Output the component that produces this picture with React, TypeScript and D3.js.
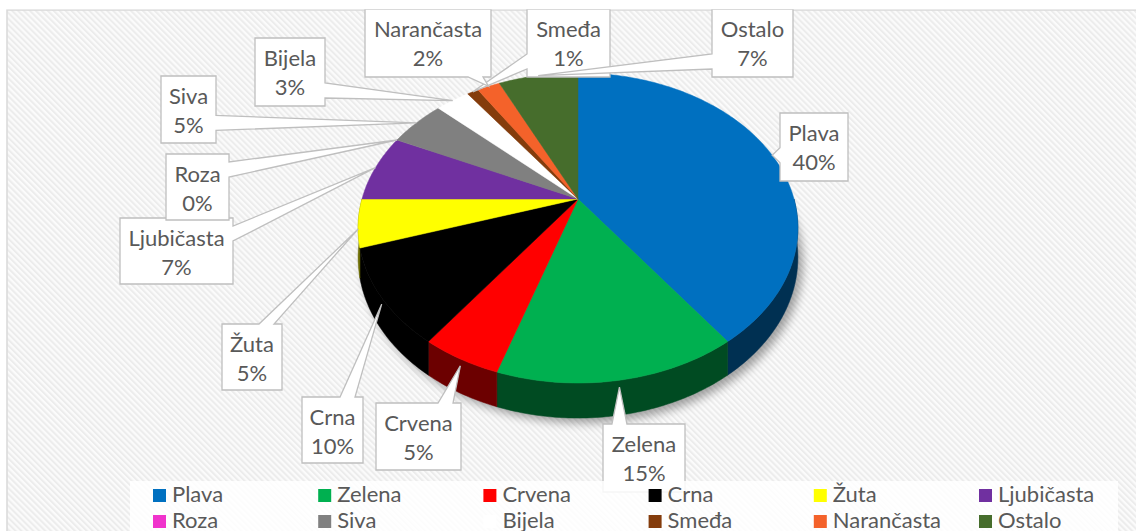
import React from 'react';
import * as d3 from 'd3';

// ---------- data ----------
const categories = ['Plava', 'Zelena', 'Crvena', 'Crna', 'Žuta', 'Ljubičasta', 'Roza', 'Siva', 'Bijela', 'Smeđa', 'Narančasta', 'Ostalo'];
const values = [40, 15, 5, 10, 5, 7, 0, 5, 3, 1, 2, 7];
const colors = ['#0070C0', '#00B050', '#FF0000', '#000000', '#FFFF00', '#7030A0', '#F033CC', '#808080', '#FFFFFF', '#843C0C', '#F4622A', '#466D2C'];

// ---------- layout (label callout boxes: x0, y0, x1, y1) ----------
const labelBoxes: [number, number, number, number][] = [
  [780, 113, 848, 181],
  [603, 424, 685, 492],
  [376, 403, 461, 470],
  [302, 397, 363, 463],
  [222, 324, 282, 390],
  [120, 218, 233, 284],
  [166, 154, 229, 220],
  [161, 76, 216, 143],
  [255, 38, 325, 106],
  [527, 9, 610, 77],
  [365, 9, 491, 77],
  [712, 9, 793, 77],
];

const W = 1136, H = 531;
const CX = 578, CY = 199; // projected pie centre
const A = 216, B = 149.6, K = 0.187; // perspective projection
const D0 = 28.5; // wall depth
const FONT = "Lato, 'Open Sans', sans-serif";
const FS = 22;
const TEXT = '#595959';

function project(theta: number, r = 1): [number, number] {
  const u = r * Math.sin(theta), v = r * Math.cos(theta);
  const s = 1 / (1 + K * v);
  return [CX + A * u * s, CY - B * v * s];
}
function depthAt(theta: number) {
  return D0 / (1 + K * Math.cos(theta));
}
function arcPoints(a0: number, a1: number): number[] {
  const n = Math.max(2, Math.ceil(((a1 - a0) * 180) / Math.PI));
  return d3.range(n + 1).map((i) => a0 + ((a1 - a0) * i) / n);
}

function topPath(a0: number, a1: number) {
  const pts = arcPoints(a0, a1).map((t) => project(t));
  return `M${CX},${CY}L` + pts.map((p) => p.join(',')).join('L') + 'Z';
}
function wallPath(a0: number, a1: number) {
  const lo = Math.max(a0, Math.PI / 2), hi = Math.min(a1, (3 * Math.PI) / 2);
  if (hi <= lo) return null;
  const ts = arcPoints(lo, hi);
  const top = ts.map((t) => project(t));
  const bot = ts.map((t) => { const p = project(t); return [p[0], p[1] + depthAt(t)]; }).reverse();
  return 'M' + top.concat(bot).map((p) => p.join(',')).join('L') + 'Z';
}
function shadowPath() {
  const ts = arcPoints(0, 2 * Math.PI);
  return 'M' + ts.map((t) => { const p = project(t); return [p[0], p[1] + depthAt(t)].join(','); }).join('L') + 'Z';
}

function calloutPath(box: [number, number, number, number], ax: number, ay: number) {
  const [x0, y0, x1, y1] = box;
  const dx = ax < x0 ? x0 - ax : ax > x1 ? ax - x1 : 0;
  const dy = ay < y0 ? y0 - ay : ay > y1 ? ay - y1 : 0;
  const w = 15, m = 8;
  const clamp = (c: number, s: number, e: number) => Math.max(s + m + w / 2, Math.min(e - m - w / 2, c));
  if (dx > dy) {
    const c = clamp(ay, y0, y1);
    if (ax < x0) {
      return `M${x0},${y0}L${x1},${y0}L${x1},${y1}L${x0},${y1}L${x0},${c + w / 2}L${ax},${ay}L${x0},${c - w / 2}Z`;
    }
    return `M${x0},${y0}L${x1},${y0}L${x1},${c - w / 2}L${ax},${ay}L${x1},${c + w / 2}L${x1},${y1}L${x0},${y1}Z`;
  }
  const c = clamp(ax, x0, x1);
  if (ay < y0) {
    return `M${x0},${y0}L${c - w / 2},${y0}L${ax},${ay}L${c + w / 2},${y0}L${x1},${y0}L${x1},${y1}L${x0},${y1}Z`;
  }
  return `M${x0},${y0}L${x1},${y0}L${x1},${y1}L${c + w / 2},${y1}L${ax},${ay}L${c - w / 2},${y1}L${x0},${y1}Z`;
}

export default function App() {
  const arcs = d3.pie<number>().sort(null).startAngle(0).endAngle(2 * Math.PI)(values);
  const total = d3.sum(values);
  const legendX = d3.scaleLinear().domain([0, 6]).range([153, 153 + 6 * 165.2]);
  const legendY = d3.scaleLinear().domain([0, 1]).range([502, 528]);

  return (
    <svg width={W} height={H} style={{ position: 'absolute', left: 0, top: 0, background: '#fff' }}>
      <defs>
        <pattern id="hatch" patternUnits="userSpaceOnUse" width={4.2} height={4.2} patternTransform="rotate(-45)">
          <rect width={4.2} height={4.2} fill="#fbfbfb" />
          <rect width={2} height={4.2} fill="#ececec" />
        </pattern>
        <filter id="blur" x="-20%" y="-20%" width="140%" height="140%">
          <feGaussianBlur stdDeviation={5} />
        </filter>
      </defs>
      <rect x={7} y={10} width={W} height={H} fill="url(#hatch)" stroke="#d9d9d9" strokeWidth={1.5} />

      {/* shadow */}
      <path d={shadowPath()} fill="#000" opacity={0.35} filter="url(#blur)" transform="translate(5,5)" />

      {/* walls */}
      {arcs.map((a, i) => {
        const d = wallPath(a.startAngle, a.endAngle);
        if (!d || a.value === 0) return null;
        const c = d3.color(colors[i])!.darker(2.4).formatHex();
        return <path key={'w' + i} d={d} fill={c} stroke={c} strokeWidth={0.5} />;
      })}

      {/* top faces */}
      {arcs.map((a, i) =>
        a.value === 0 ? null : (
          <path key={'t' + i} d={topPath(a.startAngle, a.endAngle)} fill={colors[i]} stroke={colors[i]} strokeWidth={0.5} />
        )
      )}

      {/* callout labels */}
      {arcs.map((a, i) => {
        const mid = (a.startAngle + a.endAngle) / 2;
        const p = project(mid);
        const v = Math.cos(mid);
        const ay = v < 0 ? p[1] + 0.2 * depthAt(mid) : p[1];
        const box = labelBoxes[i];
        const tx = (box[0] + box[2]) / 2;
        return (
          <g key={'l' + i}>
            <path d={calloutPath(box, p[0], ay)} fill="#fff" stroke="#bfbfbf" strokeWidth={1.3} />
            <text x={tx} y={box[1] + 28} textAnchor="middle" fontFamily={FONT} fontSize={FS} fill={TEXT}>
              {categories[i]}
            </text>
            <text x={tx} y={box[1] + 57} textAnchor="middle" fontFamily={FONT} fontSize={FS} fill={TEXT}>
              {Math.round((values[i] / total) * 100) + '%'}
            </text>
          </g>
        );
      })}

      {/* legend */}
      <rect x={130} y={481} width={988} height={60} fill="#fff" opacity={0.85} />
      {categories.map((name, i) => {
        const x = legendX(i % 6), y = legendY(Math.floor(i / 6));
        return (
          <g key={'g' + i}>
            <rect x={x} y={y - 13} width={13} height={13} fill={colors[i]} />
            <text x={x + 19} y={y} fontFamily={FONT} fontSize={FS} fill={TEXT}>
              {name}
            </text>
          </g>
        );
      })}
      {/* top white strip above chart area */}
      <rect x={0} y={0} width={W} height={9.25} fill="#fff" />
    </svg>
  );
}
